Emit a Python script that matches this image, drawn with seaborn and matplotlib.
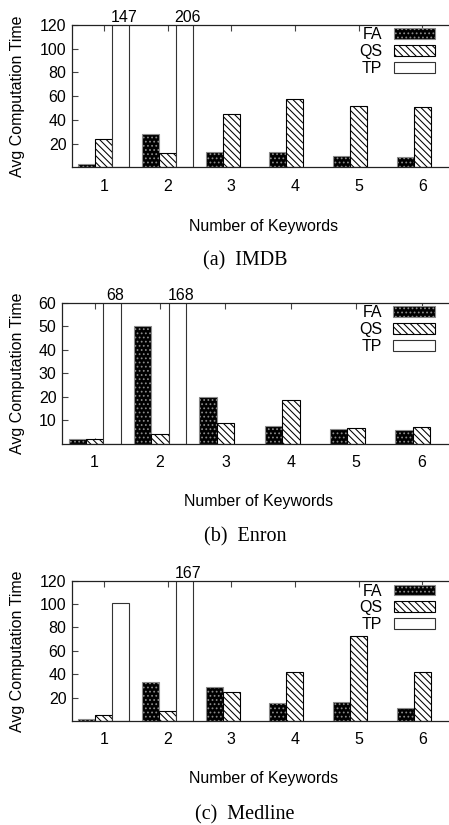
import numpy as np
import pandas as pd
import matplotlib
matplotlib.use("Agg")
import matplotlib.pyplot as plt
import matplotlib.transforms as mtransforms
from matplotlib.patches import Patch
import seaborn as sns

keywords = [1, 2, 3, 4, 5, 6]
methods = ["FA", "QS", "TP"]

imdb_fa = [3, 28, 13, 13, 10, 9]
imdb_qs = [24, 12, 45, 58, 52, 51]
imdb_tp = [147, 206, np.nan, np.nan, np.nan, np.nan]

enron_fa = [2, 50, 20, 7.5, 6.3, 5.7]
enron_qs = [2, 4, 9, 18.5, 6.5, 7]
enron_tp = [68, 168, np.nan, np.nan, np.nan, np.nan]

medline_fa = [2, 33, 29, 15, 16, 11]
medline_qs = [5, 8.5, 25, 42, 73, 42]
medline_tp = [101, 167, np.nan, np.nan, np.nan, np.nan]

imdb_yticks = [20, 40, 60, 80, 100, 120]
enron_yticks = [10, 20, 30, 40, 50, 60]
medline_yticks = [20, 40, 60, 80, 100, 120]

captions = ["(a)  IMDB", "(b)  Enron", "(c)  Medline"]


def make_df(fa, qs, tp):
    rows = []
    for name, vals in zip(methods, [fa, qs, tp]):
        for k, v in zip(keywords, vals):
            rows.append({"k": k, "method": name, "time": v})
    return pd.DataFrame(rows)


sns.set_style("white")
plt.rcParams["font.family"] = ["Liberation Sans", "DejaVu Sans"]
plt.rcParams["font.size"] = 11.5
plt.rcParams["text.color"] = "black"
plt.rcParams["axes.labelcolor"] = "black"
plt.rcParams["xtick.color"] = "black"
plt.rcParams["ytick.color"] = "black"
plt.rcParams["hatch.linewidth"] = 0.75

edge = "#333333"
styles = {
    "FA": dict(facecolor="black", edgecolor="#8a8a8a", hatch="...."),
    "QS": dict(facecolor="white", edgecolor="black", hatch="\\" * 5),
    "TP": dict(facecolor="white", edgecolor=edge, hatch=None),
}

fig = plt.figure(figsize=(4.49, 8.25), dpi=100)

panels = [
    (make_df(imdb_fa, imdb_qs, imdb_tp), imdb_yticks, [72 / 449, 0.797, 377 / 449, 0.1727], 260.7, 0.985),
    (make_df(enron_fa, enron_qs, enron_tp), enron_yticks, [62 / 449, 0.4622, 387 / 449, 0.1705], 536.7, 0.985),
    (make_df(medline_fa, medline_qs, medline_tp), medline_yticks, [72 / 449, 0.1261, 377 / 449, 0.1700], 815.0, 0.98),
]

for i, (df, yticks, rect, cap_y, leg_y) in enumerate(panels):
    ax = fig.add_axes(rect)
    sns.barplot(data=df, x="k", y="time", hue="method", hue_order=methods,
                palette=["black", "white", "white"], saturation=1,
                edgecolor=edge, linewidth=0.8, legend=False, ax=ax, errorbar=None)

    for name, cont in zip(methods, ax.containers):
        for bar in cont:
            bar.set_facecolor(styles[name]["facecolor"])
            bar.set_edgecolor(styles[name]["edgecolor"])
            if styles[name]["hatch"]:
                bar.set_hatch(styles[name]["hatch"])

    ymax = yticks[-1]
    ax.set_ylim(0, ymax)
    ax.set_xlim(-0.5, 5.42)
    ax.set_yticks(yticks)
    ax.set_xticks(range(len(keywords)))
    ax.set_xticklabels([str(k) for k in keywords])

    for s in ["left", "top", "bottom"]:
        ax.spines[s].set_color("#222222")
        ax.spines[s].set_linewidth(0.9)
    ax.spines["right"].set_visible(False)
    ax.tick_params(axis="both", direction="in", length=4, width=0.8, color="#444444",
                   top=True, bottom=True, left=True, labelsize=11.5)
    ax.tick_params(axis="y", pad=4)
    ax.tick_params(axis="x", pad=8)

    # labels for TP bars that run off the top
    trans = mtransforms.blended_transform_factory(ax.transData, ax.transAxes)
    tp_cont = ax.containers[2]
    for bar, val in zip(tp_cont, [v for v in df[df.method == "TP"]["time"] if not np.isnan(v)]):
        if val > ymax:
            ax.text(bar.get_x() + bar.get_width() / 2 + 0.05, 1.0, f"{val:.0f}",
                    transform=trans, ha="center", va="bottom", fontsize=11.5)

    ax.set_ylabel("Avg Computation Time", fontsize=11.5)
    ax.yaxis.set_label_coords((25 - rect[0] * 449) / (rect[2] * 449), 0.5)
    ax.set_xlabel("Number of Keywords", fontsize=11.5)
    ax.xaxis.set_label_coords(0.508, -0.36)

    handles = [Patch(linewidth=0.8, **styles[m]) for m in methods]
    leg = ax.legend(handles, methods, loc="upper right", bbox_to_anchor=(0.963, leg_y),
                    frameon=False, markerfirst=False, borderpad=0, borderaxespad=0,
                    handlelength=2.6, handleheight=0.65, handletextpad=0.7,
                    labelspacing=0.12, fontsize=11.5)

    fig.text(245 / 449, 1 - cap_y / 825, captions[i], ha="center", va="center",
             family=["Liberation Serif", "DejaVu Serif"], fontsize=14.5)

fig.savefig("out.png", dpi=100)
